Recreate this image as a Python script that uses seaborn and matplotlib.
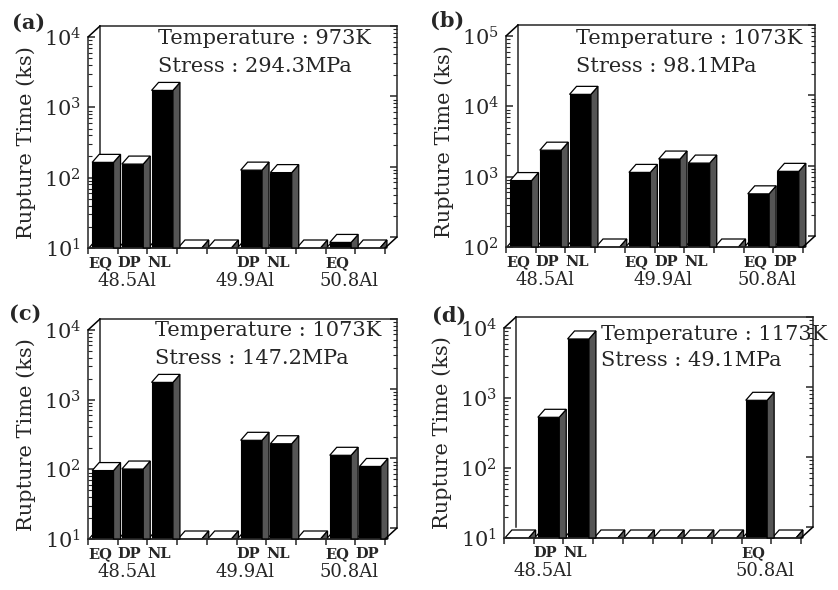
"""
Rupture time of the alloys for four creep conditions, drawn as pseudo-3D bars.
"""

import matplotlib.pyplot as plt
import numpy as np
import pandas as pd
import seaborn as sns
from matplotlib.lines import Line2D
from matplotlib.patches import Polygon


# ---------------------------------------------------------------------------
# Data (ks); None = no bar in that slot
# ---------------------------------------------------------------------------

SLOT_ALLOY = ["48.5Al", "48.5Al", "48.5Al", None,
              "49.9Al", "49.9Al", "49.9Al", None,
              "50.8Al", "50.8Al"]
SLOT_COND = ["EQ", "DP", "NL", None, "EQ", "DP", "NL", None, "EQ", "DP"]
ALLOYS = ["48.5Al", "49.9Al", "50.8Al"]

PANEL_TAGS = ["(a)", "(b)", "(c)", "(d)"]
TEMPERATURES = ["973K", "1073K", "1073K", "1173K"]
STRESSES = ["294.3MPa", "98.1MPa", "147.2MPa", "49.1MPa"]
Y_DECADES = [(1, 4), (2, 5), (1, 4), (1, 4)]

RUPTURE_A = [165, 156, 1740, None, None, 128, 118, None, 12, None]
RUPTURE_B = [880, 2380, 14800, None, 1150, 1780, 1560, None, 570, 1190]
RUPTURE_C = [96, 101, 1770, None, None, 261, 233, None, 159, 110]
RUPTURE_D = [None, 530, 6970, None, None, None, None, None, 927, None]

RUPTURES = [RUPTURE_A, RUPTURE_B, RUPTURE_C, RUPTURE_D]


# ---------------------------------------------------------------------------
# Layout (pixels of the 838x590 output)
# ---------------------------------------------------------------------------

W, H = 838, 590
AX_BOXES = [(88, 37, 385, 248), (506, 36, 803, 247),
            (88, 330, 385, 539), (504, 328, 801, 538)]  # left, top, right, bottom
TAG_POS = [(12, 23), (430, 21), (9, 314), (432, 316)]
NOTE_POS = [(158, 39), (576, 39), (155, 331), (601, 334)]
WALL_DX, WALL_DY = 12, 11   # back wall offset
BAR_DX, BAR_DY = 7, 8       # bar depth offset
LW = 1.1
SIDE = "#555555"

sns.set_style("ticks")
plt.rcParams["font.family"] = ["DejaVu Serif"]
plt.rcParams["mathtext.fontset"] = "dejavuserif"


def px_rect(left, top, right, bottom, dx=0, dy=0):
    """Figure-fraction rect from pixel box."""
    return [(left + dx) / W, 1 - (bottom - dy) / H,
            (right - left) / W, (bottom - top) / H]


def add_poly(ax, pts, fc, zorder):
    to_axes = ax.transAxes.inverted()
    ax.add_patch(Polygon(to_axes.transform(pts), closed=True, facecolor=fc,
                         edgecolor="black", lw=0.9, transform=ax.transAxes,
                         clip_on=False, zorder=zorder))


def add_3d_faces(ax, values, base):
    """Floor plate for every slot, top and side faces for every bar."""
    for rect, v in zip(ax.patches, values):
        x0, w = rect.get_x(), rect.get_width()
        xc = x0 + w / 2
        top = max(rect.get_height(), base)
        (xl, yb), (xr, yt) = ax.transData.transform([(x0, base), (x0 + w, top)])
        # floor plate, a little wider and starting at the slot edge
        (pl, _), (pr, _) = ax.transData.transform([(xc - 0.47, base), (xc + 0.33, base)])
        add_poly(ax, [(pl, yb), (pr, yb), (pr + BAR_DX, yb + BAR_DY), (pl + BAR_DX, yb + BAR_DY)],
                 "white", 0.5)
        add_poly(ax, [(pr, yb), (pr + BAR_DX, yb + BAR_DY), (pr + BAR_DX, yb)], SIDE, 0.5)
        if v is None:
            continue
        top_face = [(xl, yt), (xr, yt), (xr + BAR_DX, yt + BAR_DY), (xl + BAR_DX, yt + BAR_DY)]
        side_face = [(xr, yb), (xr, yt), (xr + BAR_DX, yt + BAR_DY), (xr + BAR_DX, yb)]
        add_poly(ax, side_face, SIDE, 3)
        add_poly(ax, top_face, "white", 3)


def draw_panel(fig, i):
    values = RUPTURES[i]
    lo, hi = Y_DECADES[i]
    base = 10.0 ** lo
    box = AX_BOXES[i]

    # back wall: its own axes, shifted up and right
    back = fig.add_axes(px_rect(*box, dx=WALL_DX, dy=WALL_DY), zorder=0)
    back.set_facecolor("none")
    back.set_yscale("log")
    back.set_ylim(base, 10.0 ** hi)
    back.set_xlim(0, 1)
    back.set_xticks([])
    back.spines["bottom"].set_visible(False)
    for s in back.spines.values():
        s.set_linewidth(LW)
    back.tick_params(axis="y", which="both", left=False, right=True,
                     labelleft=False, direction="in")
    back.tick_params(axis="y", which="major", length=5, width=LW)
    back.tick_params(axis="y", which="minor", length=3, width=0.8)

    ax = fig.add_axes(px_rect(*box), zorder=1)
    ax.set_facecolor("none")
    df = pd.DataFrame({
        "slot": [f"s{k}" for k in range(len(values))],
        "time": [base if v is None else v for v in values],
    })
    sns.barplot(data=df, x="slot", y="time", order=list(df["slot"]), color="black",
                saturation=1, width=0.72, edgecolor="black", linewidth=0.8, ax=ax)
    ax.set_yscale("log")
    ax.set_ylim(base, 10.0 ** hi)
    ax.set_xlim(-0.5, len(values) - 0.5)
    sns.despine(ax=ax, top=True, right=True)
    ax.spines["left"].set_linewidth(LW)
    ax.spines["bottom"].set_linewidth(LW)

    ax.set_xticks(np.arange(-0.5, len(values), 1.0))
    ax.set_xticklabels([])
    ax.set_xlabel("")
    ax.tick_params(axis="x", direction="out", length=4, width=LW)
    ax.tick_params(axis="y", which="both", direction="in", labelsize=15)
    ax.tick_params(axis="y", which="major", length=5, width=LW, pad=5)
    ax.tick_params(axis="y", which="minor", length=3, width=0.8)
    ax.set_ylabel("Rupture Time (ks)", fontsize=15)
    ax.yaxis.set_label_coords(-0.175, 0.5)

    add_3d_faces(ax, values, base)

    # slot and alloy labels under the floor
    xaxis_tr = ax.get_xaxis_transform()
    for k, (cond, v) in enumerate(zip(SLOT_COND, values)):
        if cond is None or v is None:
            continue
        ax.annotate(cond, xy=(k - 0.1, 0), xycoords=xaxis_tr, xytext=(0, -15),
                    textcoords="offset pixels", ha="center", va="center",
                    fontsize=10.5, fontweight="bold")
    for alloy in ALLOYS:
        idx = [k for k, a in enumerate(SLOT_ALLOY) if a == alloy]
        if all(values[k] is None for k in idx):
            continue
        ax.annotate(alloy, xy=(np.mean(idx) - 0.2, 0), xycoords=xaxis_tr,
                    xytext=(0, -33), textcoords="offset pixels",
                    ha="center", va="center", fontsize=13)

    # connecting edges between front frame and back wall
    l, t, r, b = box
    for (x, y) in [(l, t), (r, b)]:
        fig.add_artist(Line2D([x / W, (x + WALL_DX) / W],
                              [1 - y / H, 1 - (y - WALL_DY) / H],
                              color="black", lw=LW, transform=fig.transFigure))

    tx, ty = TAG_POS[i]
    fig.text(tx / W, 1 - ty / H, PANEL_TAGS[i], ha="left", va="center",
             fontsize=15, fontweight="bold")
    nx, ny = NOTE_POS[i]
    fig.text(nx / W, 1 - ny / H, f"Temperature : {TEMPERATURES[i]}",
             ha="left", va="center", fontsize=15)
    fig.text(nx / W, 1 - (ny + 27) / H, f"Stress : {STRESSES[i]}",
             ha="left", va="center", fontsize=15)


fig = plt.figure(figsize=(W / 100, H / 100), dpi=100)
for i in range(4):
    draw_panel(fig, i)

fig.savefig("out.png", dpi=100, facecolor="white")
